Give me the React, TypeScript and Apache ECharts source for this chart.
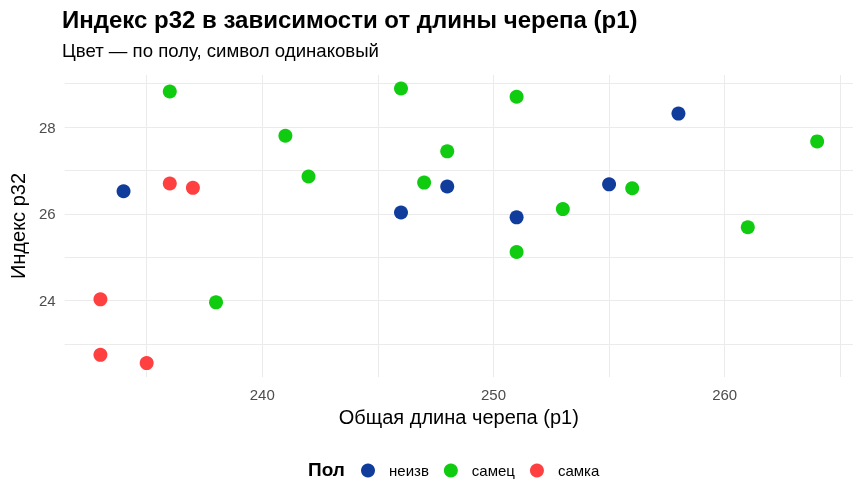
import React, { useEffect, useRef } from "react";
import * as echarts from "echarts";

const titleText = "Индекс p32 в зависимости от длины черепа (p1)";
const subtitleText = "Цвет — по полу, символ одинаковый";
const xName = "Общая длина черепа (p1)";
const yName = "Индекс p32";
const legendTitle = "Пол";

const seriesNames = ["неизв", "самец", "самка"];
const seriesColors = ["#103C9C", "#10CC10", "#FF4040"];

const neizvX = [234, 246, 248, 251, 255, 258];
const neizvY = [26.52, 26.03, 26.63, 25.92, 26.68, 28.31];
const samecX = [236, 238, 241, 242, 246, 247, 248, 251, 251, 253, 256, 261, 264];
const samecY = [28.82, 23.96, 27.8, 26.86, 28.89, 26.72, 27.44, 28.7, 25.12, 26.11, 26.59, 25.69, 27.67];
const samkaX = [233, 233, 235, 236, 237];
const samkaY = [24.03, 22.75, 22.56, 26.7, 26.6];

const xTicks = [240, 250, 260];
const yTicks = [24, 26, 28];
const xGrid = [235, 240, 245, 250, 255, 260, 265];
const yGrid = [23, 24, 25, 26, 27, 28, 29];
const xRange = [231.45, 265.55];
const yRange = [22.24, 29.2];

const FONT = "'Liberation Sans', Arial, sans-serif";

function pairs(xs: number[], ys: number[]) {
  return xs.map((x, i) => [x, ys[i]]);
}

export default function App() {
  const ref = useRef<HTMLDivElement>(null);
  useEffect(() => {
    if (!ref.current) return;
    const chart = echarts.init(ref.current, null, { renderer: "svg" });
    const groups = [pairs(neizvX, neizvY), pairs(samecX, samecY), pairs(samkaX, samkaY)];
    const option: any = {
      animation: false,
      textStyle: { fontFamily: FONT },
      grid: { left: 61, right: 10, top: 75, bottom: 123, containLabel: false },
      graphic: [
        {
          type: "text",
          left: 62,
          top: 7,
          style: { text: titleText, font: `bold 24px ${FONT}`, fill: "#000" },
        },
        {
          type: "text",
          left: 62,
          top: 41,
          style: { text: subtitleText, font: `18.6px ${FONT}`, fill: "#000" },
        },
        {
          type: "text",
          left: 308,
          top: 460,
          style: { text: legendTitle, font: `bold 19px ${FONT}`, fill: "#000" },
        },
      ],
      legend: {
        data: seriesNames,
        left: 361,
        top: 463,
        itemWidth: 14,
        itemHeight: 14,
        itemGap: 15,
        icon: "circle",
        padding: 0,
        textStyle: { fontSize: 15, color: "#000", fontFamily: FONT, padding: [0, 0, 0, 9] },
      },
      xAxis: {
        type: "value",
        min: xRange[0],
        max: xRange[1],
        name: xName,
        nameLocation: "middle",
        nameGap: 29.5,
        nameTextStyle: { fontSize: 20, color: "#000", fontFamily: FONT },
        axisLine: { show: false },
        axisTick: { show: false },
        splitLine: { show: false },
        axisLabel: { customValues: xTicks, fontSize: 15, color: "#4D4D4D", margin: 10, fontFamily: FONT },
      },
      yAxis: {
        type: "value",
        min: yRange[0],
        max: yRange[1],
        name: yName,
        nameLocation: "middle",
        nameGap: 32.5,
        nameTextStyle: { fontSize: 20, color: "#000", fontFamily: FONT },
        axisLine: { show: false },
        axisTick: { show: false },
        splitLine: { show: false },
        axisLabel: { customValues: yTicks, fontSize: 15, color: "#4D4D4D", margin: 9, fontFamily: FONT },
      },
      series: [
        {
          name: "grid",
          type: "line",
          data: [],
          z: 0,
          silent: true,
          markLine: {
            z: 0,
            silent: true,
            symbol: ["none", "none"],
            label: { show: false },
            emphasis: { disabled: true },
            lineStyle: { color: "#EBEBEB", width: 1, type: "solid" },
            data: [...xGrid.map((v) => ({ xAxis: v })), ...yGrid.map((v) => ({ yAxis: v }))],
          },
        },
        ...seriesNames.map((name, i) => ({
          name,
          type: "scatter",
          data: groups[i],
          symbol: "circle",
          symbolSize: 14,
          z: 10,
          itemStyle: { color: seriesColors[i], opacity: 1 },
        })),
      ],
    };
    chart.setOption(option);
    return () => chart.dispose();
  }, []);
  return <div ref={ref} style={{ position: "fixed", left: 0, top: 0, width: 863, height: 500 }} />;
}
